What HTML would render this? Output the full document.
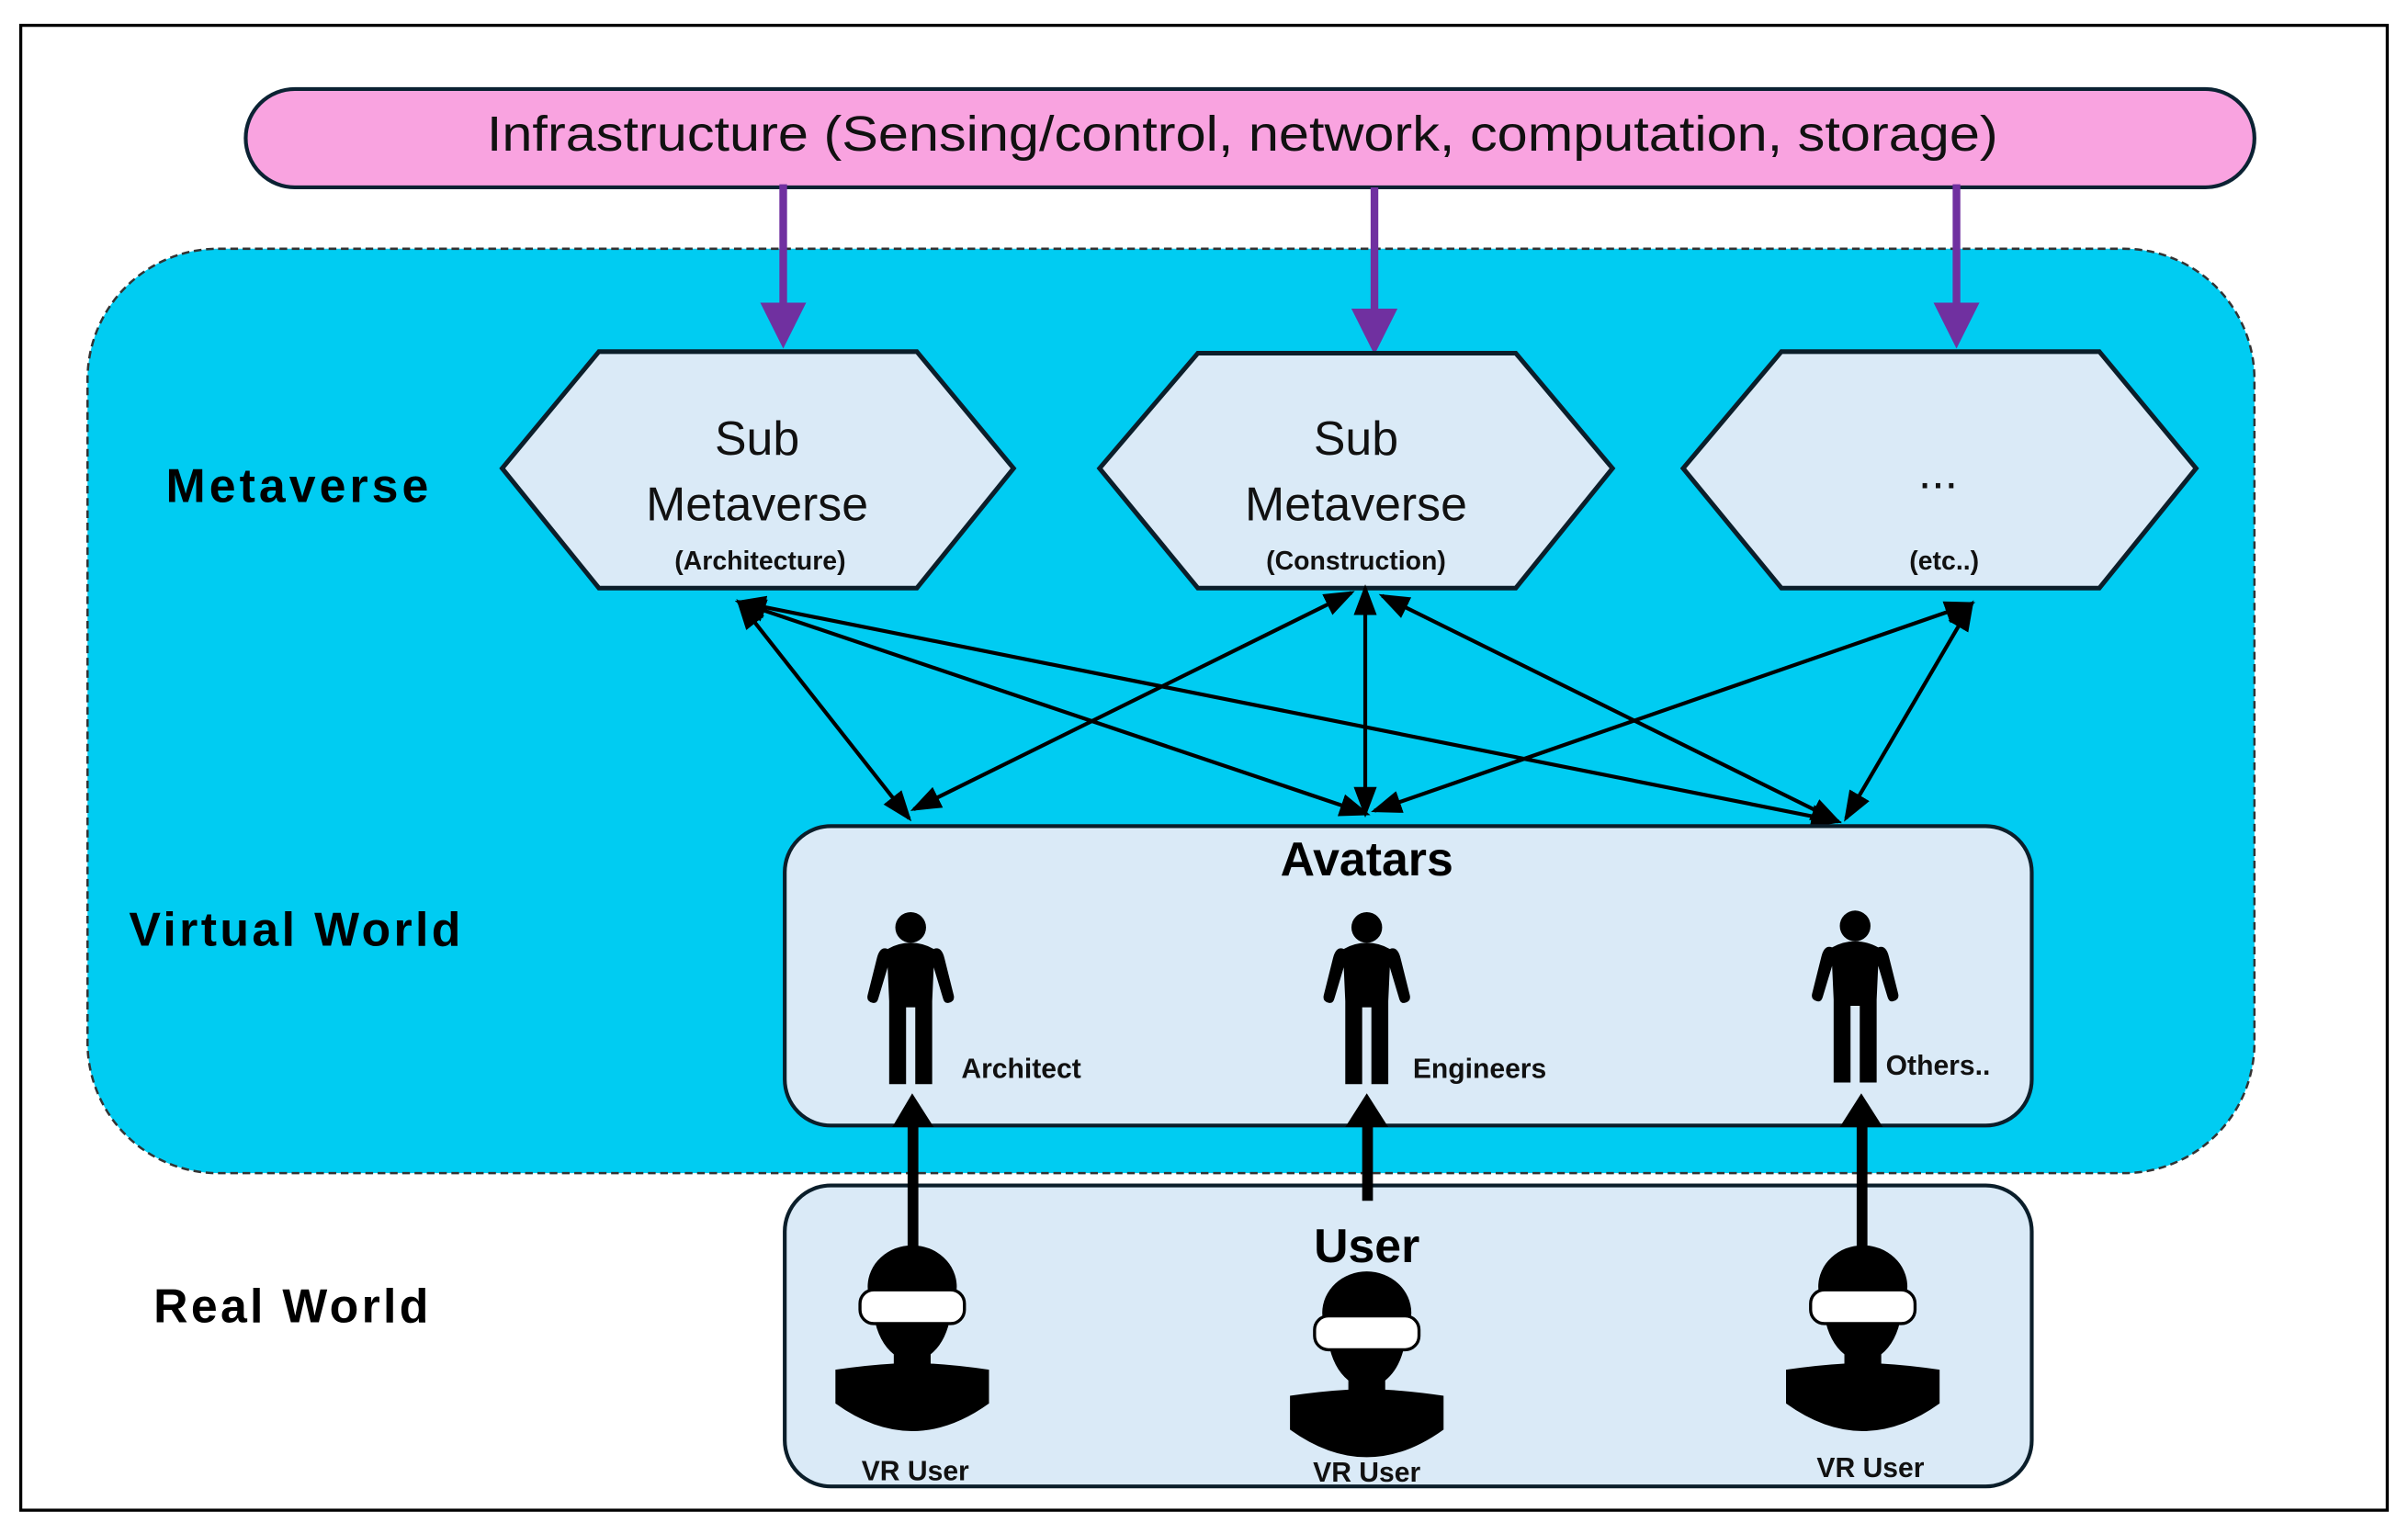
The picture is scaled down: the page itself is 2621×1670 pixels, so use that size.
<!DOCTYPE html>
<html><head><meta charset="utf-8"><style>
html,body{margin:0;padding:0;background:#fff;}
svg{display:block;}
text{font-family:"Liberation Sans",sans-serif;}
</style></head><body>
<svg width="2621" height="1670" viewBox="0 0 1568 999" preserveAspectRatio="none" xmlns="http://www.w3.org/2000/svg">
<defs>
<marker id="ap" markerWidth="6" markerHeight="6" refX="5" refY="3" orient="auto" markerUnits="strokeWidth"><path d="M0,0 L6,3 L0,6 z" fill="#7030A0"/></marker>
<marker id="ab" markerWidth="8" markerHeight="8" refX="7" refY="4" orient="auto-start-reverse" markerUnits="strokeWidth"><path d="M0,1 L8,4 L0,7 z" fill="#000"/></marker>
<g id="person">
<circle cx="0" cy="10" r="10" fill="#000"/>
<path d="M-15,24 Q-20,22 -22,30 L-28,54 Q-29,58 -25,59 Q-22,60 -21,56 L-15,36 L-14,58 L-14,112 L-3,112 L-3,62 L3,62 L3,112 L14,112 L14,58 L15,36 L21,56 Q22,60 25,59 Q29,58 28,54 L22,30 Q20,22 15,24 Q8,20 0,20 Q-8,20 -15,24 Z" fill="#000"/>
</g>
<g id="vr">
<ellipse cx="0" cy="26" rx="29" ry="27" fill="#000"/>
<path d="M-25,45 Q-22,62 -12,70 L-12,80 L12,80 L12,70 Q22,62 25,45 Z" fill="#000"/>
<path d="M-50,80 Q-30,77 -12,76 L12,76 Q30,77 50,80 L50,102 Q25,120 0,120 Q-25,120 -50,102 Z" fill="#000"/>
<rect x="-34" y="28" width="68" height="22" rx="9" fill="#fff" stroke="#000" stroke-width="2"/>
</g>
</defs>
<rect x="0" y="0" width="1568" height="999" fill="#fff"/>
<rect x="13.5" y="16.5" width="1541" height="967" fill="none" stroke="#000" stroke-width="2"/>
<rect x="57" y="162" width="1411" height="602" rx="85" fill="#00CCF2" stroke="#333" stroke-width="1.5" stroke-dasharray="5,3"/>
<rect x="160" y="58" width="1308" height="64" rx="32" fill="#F9A3E0" stroke="#0b2233" stroke-width="2.5"/>
<text x="317" y="98" font-size="32" textLength="984" lengthAdjust="spacingAndGlyphs" fill="#111">Infrastructure (Sensing/control, network, computation, storage)</text>
<g stroke="#7030A0" stroke-width="5">
<line x1="510" y1="120" x2="510" y2="222" marker-end="url(#ap)"/>
<line x1="895" y1="122" x2="895" y2="226" marker-end="url(#ap)"/>
<line x1="1274" y1="120" x2="1274" y2="222" marker-end="url(#ap)"/>
</g>
<g fill="#DAEAF7" stroke="#0b1e2a" stroke-width="3">
<polygon points="327,305 390,229 597,229 660,305 597,383 390,383"/>
<polygon points="716,305 780,230 987,230 1050,305 987,383 780,383"/>
<polygon points="1096,305 1160,229 1367,229 1430,305 1367,383 1160,383"/>
</g>
<g font-size="31" text-anchor="middle" fill="#111">
<text x="493" y="296">Sub</text><text x="493" y="339">Metaverse</text>
<text x="883" y="296">Sub</text><text x="883" y="339">Metaverse</text>
<text x="1262" y="318">...</text>
</g>
<g font-size="17" font-weight="bold" text-anchor="middle" fill="#111">
<text x="495" y="371">(Architecture)</text>
<text x="883" y="371">(Construction)</text>
<text x="1266" y="371">(etc..)</text>
</g>
<g font-size="31" font-weight="bold" fill="#000" lengthAdjust="spacingAndGlyphs">
<text x="108" y="327" textLength="171">Metaverse</text>
<text x="84" y="616" textLength="216">Virtual World</text>
<text x="100" y="861" textLength="179">Real World</text>
</g>
<g stroke="#000" stroke-width="2.5" fill="none">
<line x1="481" y1="392" x2="592" y2="533" marker-start="url(#ab)" marker-end="url(#ab)"/>
<line x1="481" y1="392" x2="890" y2="530" marker-start="url(#ab)" marker-end="url(#ab)"/>
<line x1="481" y1="392" x2="1197" y2="535" marker-start="url(#ab)" marker-end="url(#ab)"/>
<line x1="880" y1="386" x2="595" y2="527" marker-start="url(#ab)" marker-end="url(#ab)"/>
<line x1="889" y1="383" x2="889" y2="530" marker-start="url(#ab)" marker-end="url(#ab)"/>
<line x1="900" y1="388" x2="1197" y2="535" marker-start="url(#ab)" marker-end="url(#ab)"/>
<line x1="1284" y1="393" x2="895" y2="528" marker-start="url(#ab)" marker-end="url(#ab)"/>
<line x1="1284" y1="393" x2="1202" y2="533" marker-start="url(#ab)" marker-end="url(#ab)"/>
</g>
<rect x="511" y="538" width="812" height="195" rx="30" fill="#DAEAF7" stroke="#0b1e2a" stroke-width="2.5"/>
<rect x="511" y="772" width="812" height="196" rx="30" fill="#DAEAF7" stroke="#0b1e2a" stroke-width="2.5"/>
<text x="890" y="570" font-size="31" font-weight="bold" text-anchor="middle">Avatars</text>
<text x="890" y="822" font-size="31" font-weight="bold" text-anchor="middle">User</text>
<use href="#person" x="593" y="594"/>
<use href="#person" x="890" y="594"/>
<use href="#person" x="1208" y="593"/>
<g font-size="18" font-weight="bold" fill="#111">
<text x="626" y="702">Architect</text>
<text x="920" y="702">Engineers</text>
<text x="1228" y="700">Others..</text>
</g>
<g fill="#000">
<rect x="591" y="730" width="7" height="95"/><polygon points="581,734 608,734 594,712"/>
<rect x="887" y="730" width="7" height="52"/><polygon points="876,734 904,734 890,712"/>
<rect x="1209" y="730" width="7" height="95"/><polygon points="1198,734 1226,734 1212,712"/>
</g>
<use href="#vr" x="594" y="812"/>
<use href="#vr" x="890" y="829"/>
<use href="#vr" x="1213" y="812"/>
<g font-size="18" font-weight="bold" text-anchor="middle" fill="#111">
<text x="596" y="964">VR User</text>
<text x="890" y="965">VR User</text>
<text x="1218" y="962">VR User</text>
</g>
</svg>
</body></html>
